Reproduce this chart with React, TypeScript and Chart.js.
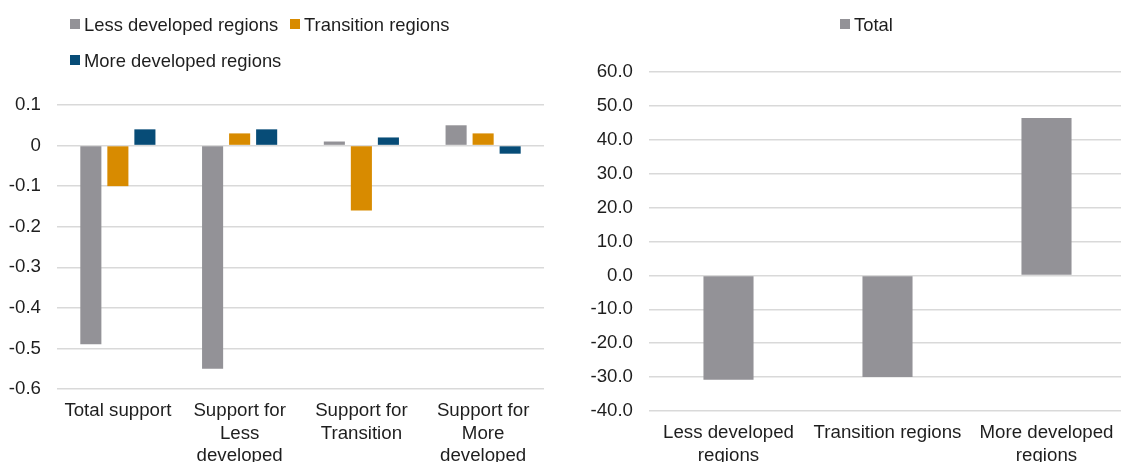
import React, { useEffect, useRef } from "react";
import { Chart, registerables } from "chart.js";

Chart.register(...registerables);

// ---- Left chart data ----
const leftCategories: string[][] = [
  ["Total support"],
  ["Support for", "Less", "developed", "regions"],
  ["Support for", "Transition"],
  ["Support for", "More", "developed", "regions"],
];
const lessDevelopedValues = [-0.49, -0.55, 0.01, 0.05];
const transitionValues = [-0.1, 0.03, -0.16, 0.03];
const moreDevelopedValues = [0.04, 0.04, 0.02, -0.02];
const leftSeriesNames = ["Less developed regions", "Transition regions", "More developed regions"];
const leftAxisMin = -0.6;
const leftAxisMax = 0.1;
const leftAxisStep = 0.1;

// ---- Right chart data ----
const rightCategories: string[][] = [
  ["Less developed", "regions"],
  ["Transition regions"],
  ["More developed", "regions"],
];
const totalValues = [-30.8, -30.0, 46.4];
const rightSeriesName = "Total";
const rightAxisMin = -40;
const rightAxisMax = 60;
const rightAxisStep = 10;

// ---- Styles ----
const GRAY = "#939297";
const ORANGE = "#d88b00";
const BLUE = "#074c77";
const GRID = "#d9d9d9";
const TEXT = "#1e1e1e";
const FONT = "'Liberation Sans', Arial, Helvetica, sans-serif";
const AXIS_FONT_SIZE = 18.7;
const LEGEND_FONT_SIZE = 18.4;

function LegendItem({ color, label, left, top }: { color: string; label: string; left: number; top: number }) {
  return (
    <div
      style={{
        position: "absolute",
        left,
        top,
        height: 20,
        lineHeight: "20px",
        fontSize: LEGEND_FONT_SIZE,
        fontFamily: FONT,
        color: TEXT,
        whiteSpace: "nowrap",
      }}
    >
      <span
        style={{
          position: "absolute",
          left: 0,
          top: 4,
          width: 10,
          height: 10,
          background: color,
        }}
      />
      <span style={{ position: "absolute", left: 14, top: 0 }}>{label}</span>
    </div>
  );
}

function LeftChart() {
  const ref = useRef<HTMLCanvasElement | null>(null);
  useEffect(() => {
    if (!ref.current) return;
    const chart = new Chart(ref.current, {
      type: "bar",
      data: {
        labels: leftCategories,
        datasets: [
          { label: leftSeriesNames[0], data: lessDevelopedValues, backgroundColor: GRAY },
          { label: leftSeriesNames[1], data: transitionValues, backgroundColor: ORANGE },
          { label: leftSeriesNames[2], data: moreDevelopedValues, backgroundColor: BLUE },
        ],
      },
      options: {
        animation: false,
        responsive: false,
        maintainAspectRatio: false,
        layout: { padding: { top: 105, right: 16, left: 0, bottom: 0 } },
        plugins: { legend: { display: false }, tooltip: { enabled: false } },
        datasets: { bar: { categoryPercentage: 0.666, barPercentage: 0.78 } },
        scales: {
          x: {
            grid: { display: false, drawTicks: false },
            border: { display: false },
            ticks: {
              color: TEXT,
              font: { family: FONT, size: AXIS_FONT_SIZE },
              padding: 11,
              maxRotation: 0,
              autoSkip: false,
            },
            afterFit: (s: any) => {
              s.height = 73;
            },
          },
          y: {
            min: leftAxisMin,
            max: leftAxisMax,
            grid: { color: GRID, lineWidth: 1.5, drawTicks: false },
            border: { display: false },
            ticks: {
              stepSize: leftAxisStep,
              color: TEXT,
              font: { family: FONT, size: AXIS_FONT_SIZE },
              padding: 16,
              callback: (v: any) => (Math.abs(Number(v)) < 1e-9 ? "0" : Number(v).toFixed(1)),
            },
            afterFit: (s: any) => {
              s.width = 57;
            },
          },
        },
      },
    });
    return () => chart.destroy();
  }, []);
  return <canvas ref={ref} width={560} height={462} style={{ width: 560, height: 462, display: "block" }} />;
}

function RightChart() {
  const ref = useRef<HTMLCanvasElement | null>(null);
  useEffect(() => {
    if (!ref.current) return;
    const chart = new Chart(ref.current, {
      type: "bar",
      data: {
        labels: rightCategories,
        datasets: [{ label: rightSeriesName, data: totalValues, backgroundColor: GRAY }],
      },
      options: {
        animation: false,
        responsive: false,
        maintainAspectRatio: false,
        layout: { padding: { top: 72, right: 14, left: 0, bottom: 0 } },
        plugins: { legend: { display: false }, tooltip: { enabled: false } },
        datasets: { bar: { categoryPercentage: 1, barPercentage: 0.315 } },
        scales: {
          x: {
            grid: { display: false, drawTicks: false },
            border: { display: false },
            ticks: {
              color: TEXT,
              font: { family: FONT, size: AXIS_FONT_SIZE },
              padding: 11,
              maxRotation: 0,
              autoSkip: false,
            },
            afterFit: (s: any) => {
              s.height = 51;
            },
          },
          y: {
            min: rightAxisMin,
            max: rightAxisMax,
            grid: { color: GRID, lineWidth: 1.5, drawTicks: false },
            border: { display: false },
            ticks: {
              stepSize: rightAxisStep,
              color: TEXT,
              font: { family: FONT, size: AXIS_FONT_SIZE },
              padding: 16,
              callback: (v: any) => Number(v).toFixed(1),
            },
            afterFit: (s: any) => {
              s.width = 69;
            },
          },
        },
      },
    });
    return () => chart.destroy();
  }, []);
  return <canvas ref={ref} width={560} height={462} style={{ width: 560, height: 462, display: "block" }} />;
}

export default function App() {
  return (
    <div
      style={{
        position: "absolute",
        left: 0,
        top: 0,
        width: 1121,
        height: 462,
        overflow: "hidden",
        background: "#ffffff",
      }}
    >
      <div style={{ position: "absolute", left: 0, top: 0, width: 560, height: 462 }}>
        <LeftChart />
      </div>
      <div style={{ position: "absolute", left: 580, top: 0, width: 560, height: 462 }}>
        <RightChart />
      </div>
      <LegendItem color={GRAY} label={leftSeriesNames[0]} left={70} top={15} />
      <LegendItem color={ORANGE} label={leftSeriesNames[1]} left={290} top={15} />
      <LegendItem color={BLUE} label={leftSeriesNames[2]} left={70} top={51} />
      <LegendItem color={GRAY} label={rightSeriesName} left={840} top={15} />
    </div>
  );
}
